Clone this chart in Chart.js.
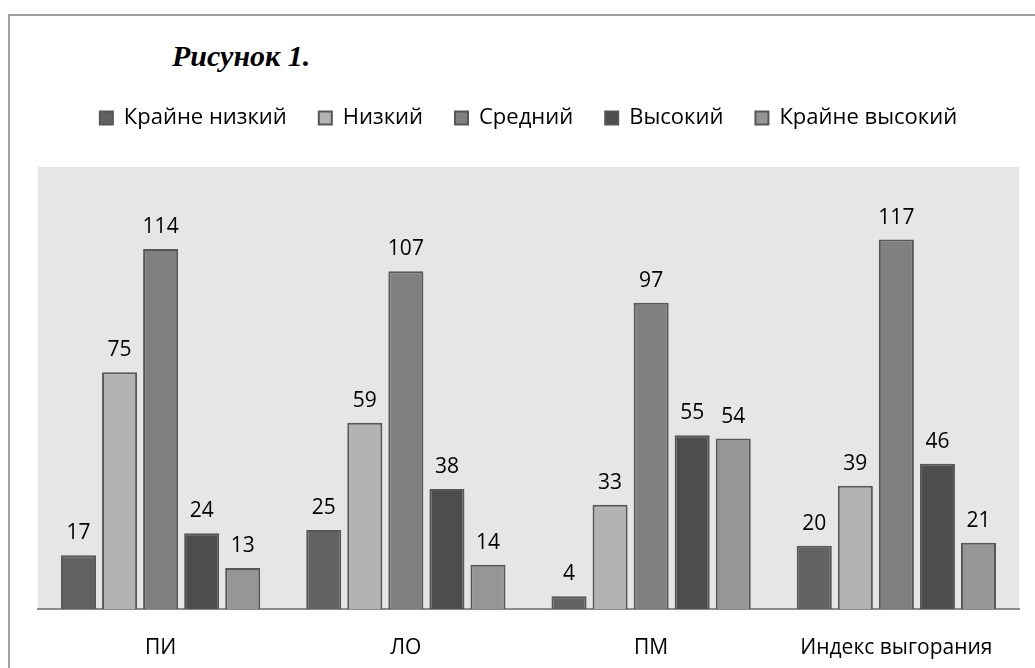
<!DOCTYPE html>
<html>
<head>
<meta charset="utf-8">
<script src="https://cdn.jsdelivr.net/npm/chart.js@4.4.1/dist/chart.umd.min.js"></script>
<style>
  html, body { margin: 0; padding: 0; background: #fff; overflow: hidden; }
  #wrap { position: relative; width: 1035px; height: 668px; }
  #frame { position: absolute; left: 8px; top: 14px; width: 1100px; height: 700px; border-left: 2px solid #a0a0a0; border-top: 2px solid #a0a0a0; box-sizing: border-box; }
  #title { position: absolute; left: 172px; top: 39px; font-family: "Liberation Serif", "DejaVu Serif", serif; font-weight: bold; font-style: italic; font-size: 30px; color: #000; white-space: nowrap; }
  canvas { position: absolute; left: 0; top: 0; }
</style>
</head>
<body>
<div id="wrap">
  <div id="frame"></div>
  <div id="title">Рисунок 1.</div>
  <canvas id="c" width="1035" height="668"></canvas>
</div>
<script>
const categories = ["ПИ", "ЛО", "ПМ", "Индекс выгорания"];
const seriesNames = ["Крайне низкий", "Низкий", "Средний", "Высокий", "Крайне высокий"];
const extremelyLow = [17, 25, 4, 20];
const low = [75, 59, 33, 39];
const medium = [114, 107, 97, 117];
const high = [24, 38, 55, 46];
const extremelyHigh = [13, 14, 54, 21];
const seriesValues = [extremelyLow, low, medium, high, extremelyHigh];
const fills = ["#626262", "#b3b3b3", "#808080", "#4d4d4d", "#969696"];
const FONT = "'Open Sans', 'DejaVu Sans', sans-serif";

const legendGap = {
  id: 'legendGap',
  afterInit(chart) {
    const lg = chart.legend;
    const orig = lg.fit;
    lg.fit = function () { orig.call(this); this.height += 28; };
  }
};
const bgPlugin = {
  id: 'bg',
  beforeDraw(chart) {
    const {ctx, chartArea: a} = chart;
    ctx.save();
    ctx.fillStyle = '#e6e6e6';
    ctx.fillRect(a.left, a.top, a.right - a.left, a.bottom - a.top);
    ctx.restore();
  }
};
const labelPlugin = {
  id: 'valueLabels',
  afterDatasetsDraw(chart) {
    const ctx = chart.ctx;
    ctx.save();
    ctx.font = "21px " + FONT;
    ctx.fillStyle = '#000';
    ctx.textAlign = 'center';
    ctx.textBaseline = 'alphabetic';
    chart.data.datasets.forEach((ds, i) => {
      chart.getDatasetMeta(i).data.forEach((bar, j) => {
        ctx.fillText(String(ds.data[j]), bar.x, bar.y - 16);
      });
    });
    ctx.restore();
  }
};

new Chart(document.getElementById('c'), {
  type: 'bar',
  data: {
    labels: categories,
    datasets: seriesNames.map((n, i) => ({
      label: n,
      data: seriesValues[i],
      backgroundColor: fills[i],
      borderColor: '#575757',
      borderWidth: 2,
      categoryPercentage: 0.837,
      barPercentage: 0.854
    }))
  },
  options: {
    responsive: false,
    animation: false,
    layout: { padding: { left: 38, right: 16, top: 75, bottom: 0 } },
    plugins: {
      legend: {
        position: 'top',
        labels: {
          font: { size: 22, family: FONT },
          color: '#000',
          boxWidth: 13, boxHeight: 13,
          padding: 32,
        }
      },
      tooltip: { enabled: false },
      title: { display: false }
    },
    scales: {
      x: {
        grid: { display: false, drawTicks: false },
        border: { display: true, color: '#8c8c8c', width: 2 },
        ticks: { color: '#000', font: { size: 21, family: FONT }, padding: 26, maxRotation: 0 },
        afterFit(scale) { scale.height = 59; }
      },
      y: {
        display: false,
        min: 0, max: 140
      }
    }
  },
  plugins: [legendGap, bgPlugin, labelPlugin]
});
</script>
</body>
</html>
